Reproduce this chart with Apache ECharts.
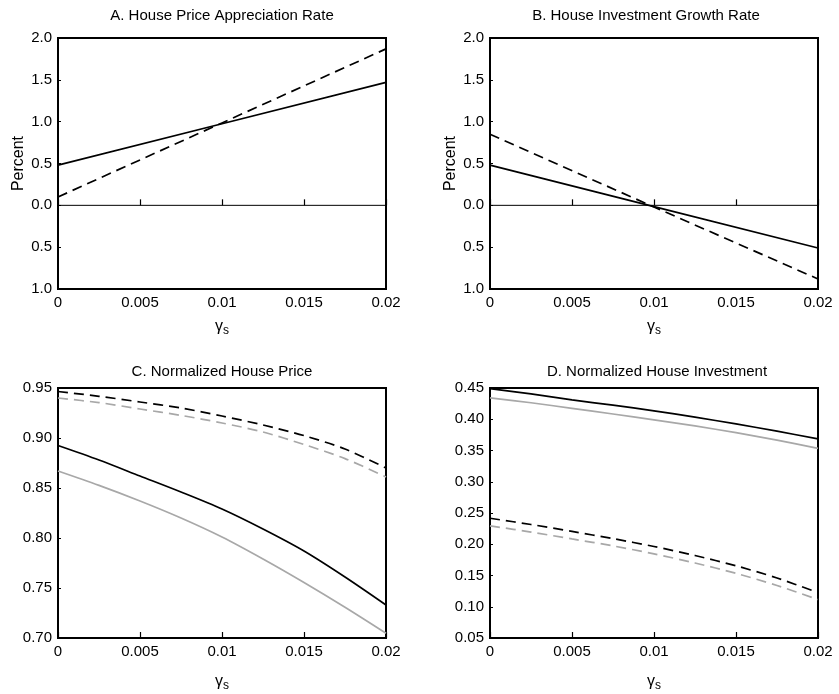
<!DOCTYPE html>
<html>
<head>
<meta charset="utf-8">
<script src="https://cdn.jsdelivr.net/npm/echarts@6/dist/echarts.min.js"></script>
<style>html,body{margin:0;padding:0;background:#fff}#c{width:839px;height:694px}</style>
</head>
<body>
<div id="c"></div>
<script>
// ---- data ----
const titles = ['A. House Price Appreciation Rate', 'B. House Investment Growth Rate', 'C. Normalized House Price', 'D. Normalized House Investment'];
const xLin = [0, 0.01, 0.02];
const aSolid = [0.48, 0.975, 1.47];
const aDashed = [0.10, 0.985, 1.87];
const bSolid = [0.48, -0.015, -0.51];
const bDashed = [0.85, -0.02, -0.88];
const zeroX = [0, 0.02];
const zeroY = [0, 0];

const xCurve = [0, 0.0025, 0.005, 0.0075, 0.01, 0.0125, 0.015, 0.0175, 0.02];
const cBlackSolid = [0.8925, 0.878, 0.862, 0.846, 0.829, 0.809, 0.787, 0.761, 0.733];
const cGraySolid = [0.867, 0.8526, 0.837, 0.820, 0.801, 0.779, 0.7555, 0.7307, 0.7047];
const cBlackDashed = [0.9465, 0.9417, 0.936, 0.930, 0.922, 0.913, 0.9024, 0.889, 0.870];
const cGrayDashed = [0.940, 0.9354, 0.929, 0.9226, 0.915, 0.906, 0.8935, 0.8794, 0.861];

const dBlackSolid = [0.449, 0.4405, 0.431, 0.4225, 0.4135, 0.4034, 0.3925, 0.381, 0.3685];
const dGraySolid = [0.4343, 0.4264, 0.4174, 0.4084, 0.399, 0.3893, 0.3785, 0.3665, 0.3535];
const dBlackDashed = [0.2416, 0.2316, 0.2205, 0.209, 0.1964, 0.182, 0.1655, 0.146, 0.1225];
const dGrayDashed = [0.2295, 0.2195, 0.2085, 0.1974, 0.1845, 0.170, 0.1535, 0.134, 0.1115];

const yRanges = [[-1, 2, 0.5, 1], [-1, 2, 0.5, 1], [0.70, 0.95, 0.05, 2], [0.05, 0.45, 0.05, 2]];

// ---- layout ----
const FONT = 'Liberation Sans';
const grids = [
  {left: 58, top: 38, width: 328, height: 251},
  {left: 490, top: 38, width: 328, height: 251},
  {left: 58, top: 388, width: 328, height: 250},
  {left: 490, top: 388, width: 328, height: 250}
];
const titleCenters = [[222, 8], [646, 8], [222, 364], [657, 364]];
const nameGaps = [27, 27, 33, 33];
const BLACK = '#000';
const GRAY = '#a8a8a8';

const pairs = (xs, ys) => xs.map((x, i) => [x, ys[i]]);

const xAxes = grids.map((g, i) => ({
  type: 'value', gridIndex: i, min: 0, max: 0.02, interval: 0.005,
  axisLine: {show: false},
  splitLine: {show: false},
  axisTick: {show: true, inside: true, length: 6, lineStyle: {color: BLACK, width: 1.2}},
  axisLabel: {
    color: BLACK, fontFamily: FONT, fontSize: 15, margin: 6,
    formatter: v => v === 0 ? '0' : String(parseFloat(v.toFixed(4)))
  },
  name: '{g|γ}{s|s}', nameLocation: 'middle', nameGap: nameGaps[i],
  nameTextStyle: {
    color: BLACK, fontFamily: FONT, verticalAlign: 'top',
    rich: {
      g: {fontSize: 16, fontFamily: FONT, color: BLACK},
      s: {fontSize: 12, fontFamily: FONT, color: BLACK, padding: [9, 0, 0, 0]}
    }
  }
}));

const yAxes = grids.map((g, i) => ({
  type: 'value', gridIndex: i,
  min: yRanges[i][0], max: yRanges[i][1], interval: yRanges[i][2],
  axisLine: {show: false},
  splitLine: {show: false},
  axisTick: {show: true, inside: true, length: 3, lineStyle: {color: BLACK, width: 1}},
  axisLabel: {
    color: BLACK, fontFamily: FONT, fontSize: 15, margin: 6,
    formatter: v => Math.abs(v).toFixed(yRanges[i][3])
  },
  name: i < 2 ? 'Percent' : '', nameLocation: 'middle', nameGap: 31, nameRotate: 90,
  nameTextStyle: {color: BLACK, fontFamily: FONT, fontSize: 16}
}));

function line(idx, xs, ys, color, dashed, width) {
  return {
    type: 'line', xAxisIndex: idx, yAxisIndex: idx,
    data: pairs(xs, ys), symbol: 'none',
    smooth: xs.length > 3 ? 0.3 : false,
    lineStyle: {color: color, width: width || 1.7, type: dashed ? [10, 6] : 'solid'},
    silent: true
  };
}

const series = [
  line(0, zeroX, zeroY, BLACK, false, 1),
  line(0, xLin, aSolid, BLACK, false),
  line(0, xLin, aDashed, BLACK, true),
  line(1, zeroX, zeroY, BLACK, false, 1),
  line(1, xLin, bSolid, BLACK, false),
  line(1, xLin, bDashed, BLACK, true),
  line(2, xCurve, cGraySolid, GRAY, false),
  line(2, xCurve, cGrayDashed, GRAY, true),
  line(2, xCurve, cBlackSolid, BLACK, false),
  line(2, xCurve, cBlackDashed, BLACK, true),
  line(3, xCurve, dGraySolid, GRAY, false),
  line(3, xCurve, dGrayDashed, GRAY, true),
  line(3, xCurve, dBlackSolid, BLACK, false),
  line(3, xCurve, dBlackDashed, BLACK, true)
];

const chart = echarts.init(document.getElementById('c'), null, {renderer: 'canvas'});
chart.setOption({
  animation: false,
  backgroundColor: '#fff',
  title: titles.map((t, i) => ({
    text: t, left: titleCenters[i][0], top: titleCenters[i][1], padding: 0,
    textAlign: 'center',
    textStyle: {color: BLACK, fontFamily: FONT, fontSize: 15, fontWeight: 'normal'}
  })),
  grid: grids.map(g => Object.assign({show: true, borderColor: BLACK, borderWidth: 2, backgroundColor: 'transparent', containLabel: false}, g)),
  xAxis: xAxes,
  yAxis: yAxes,
  series: series
});
</script>
</body>
</html>
